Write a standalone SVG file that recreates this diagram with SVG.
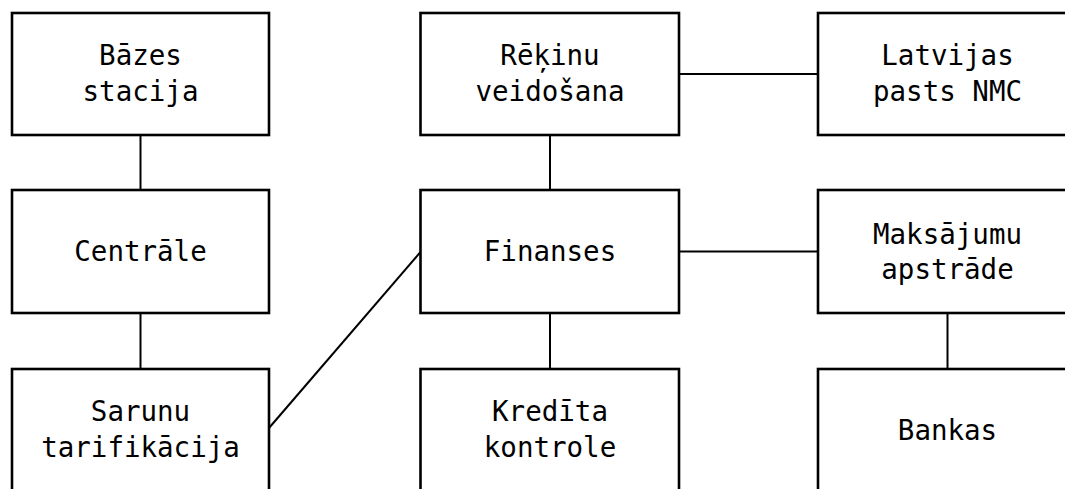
<svg xmlns="http://www.w3.org/2000/svg" width="1065" height="489" viewBox="0 0 1065 489">
<style>
.box{fill:#fff;stroke:#000;stroke-width:2.6}
.c{stroke:#000;stroke-width:2;fill:none}
text{font-family:"DejaVu Sans Mono","Liberation Mono",monospace;font-size:27.5px;fill:#000;text-anchor:middle}
</style>
<rect width="1065" height="489" fill="#fff"/>
<g id="connectors">
<line class="c" x1="140.5" y1="135" x2="140.5" y2="190"/>
<line class="c" x1="140.5" y1="313" x2="140.5" y2="369"/>
<line class="c" x1="550" y1="135" x2="550" y2="190"/>
<line class="c" x1="550" y1="313" x2="550" y2="369"/>
<line class="c" x1="947.5" y1="313" x2="947.5" y2="369"/>
<line class="c" x1="679" y1="74" x2="818" y2="74"/>
<line class="c" x1="679" y1="251.5" x2="818" y2="251.5"/>
<line class="c" x1="269" y1="428" x2="420.5" y2="252"/>
</g>
<g id="bazes"><rect class="box" x="12" y="13" width="257" height="122"/><text x="140.5" y="65">Bāzes</text><text x="140.5" y="100.5">stacija</text></g>
<g id="centrale"><rect class="box" x="12" y="190" width="257" height="123"/><text x="140.5" y="261">Centrāle</text></g>
<g id="sarunu"><rect class="box" x="12" y="369" width="257" height="130"/><text x="140.5" y="421">Sarunu</text><text x="140.5" y="456.5">tarifikācija</text></g>
<g id="rekinu"><rect class="box" x="420.5" y="13" width="258.5" height="122"/><text x="550" y="65">Rēķinu</text><text x="550" y="100.5">veidošana</text></g>
<g id="finanses"><rect class="box" x="420.5" y="190" width="258.5" height="123"/><text x="550" y="261">Finanses</text></g>
<g id="kredita"><rect class="box" x="420.5" y="369" width="258.5" height="130"/><text x="550" y="421">Kredīta</text><text x="550" y="456.5">kontrole</text></g>
<g id="latvijas"><rect class="box" x="818" y="13" width="260" height="122"/><text x="947.5" y="65">Latvijas</text><text x="947.5" y="100.5">pasts NMC</text></g>
<g id="maksajumu"><rect class="box" x="818" y="190" width="260" height="123"/><text x="947.5" y="243.5">Maksājumu</text><text x="947.5" y="279">apstrāde</text></g>
<g id="bankas"><rect class="box" x="818" y="369" width="260" height="130"/><text x="947.5" y="440">Bankas</text></g>
</svg>
